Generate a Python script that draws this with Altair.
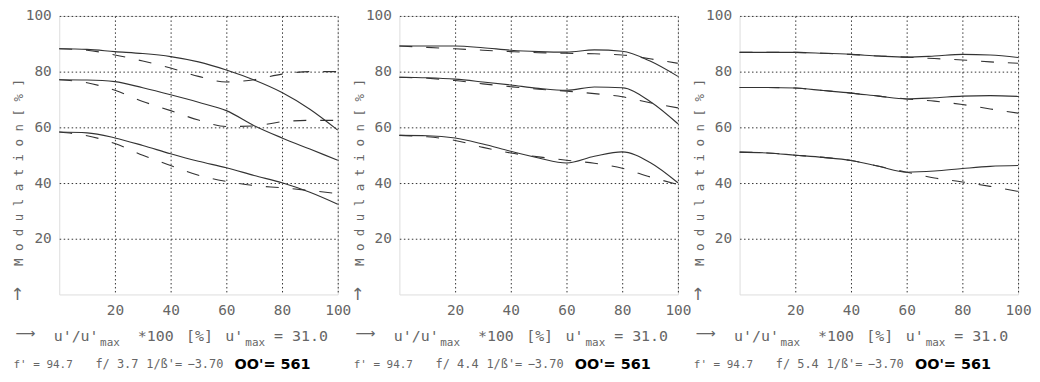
import altair as alt
import pandas as pd

# ---------------- data ----------------
x_pct = [0, 10, 20, 30, 40, 50, 60, 70, 80, 90, 100]

# panel 1 : f/3.7
p1_solid_high = [88.2, 88.0, 87.2, 86.5, 85.4, 83.5, 80.6, 77.0, 72.5, 66.5, 59.0]
p1_dash_high = [88.2, 87.7, 86.0, 83.8, 81.3, 78.3, 76.3, 77.1, 79.1, 80.0, 80.0]
p1_solid_mid = [77.1, 77.0, 76.4, 74.2, 71.7, 69.0, 66.0, 60.6, 56.2, 52.2, 48.2]
p1_dash_mid = [77.1, 76.0, 73.3, 69.3, 66.0, 62.6, 60.3, 60.5, 62.0, 62.5, 62.5]
p1_solid_low = [58.3, 58.0, 56.2, 53.5, 50.5, 47.8, 45.5, 42.7, 40.1, 36.7, 32.4]
p1_dash_low = [58.3, 57.0, 54.2, 50.0, 46.3, 42.8, 40.6, 39.1, 38.3, 37.3, 36.2]

# panel 2 : f/4.4
p2_solid_high = [89.2, 89.2, 89.2, 88.6, 87.7, 87.2, 87.0, 87.8, 87.3, 83.8, 78.3]
p2_dash_high = [89.2, 88.7, 88.2, 87.7, 87.2, 86.8, 86.6, 86.4, 86.0, 84.6, 83.0]
p2_solid_mid = [78.0, 77.8, 77.3, 76.3, 75.2, 74.0, 73.3, 74.5, 74.2, 69.3, 61.3]
p2_dash_mid = [78.0, 77.6, 76.8, 75.6, 74.6, 73.7, 73.0, 72.1, 71.0, 68.8, 67.0]
p2_solid_low = [57.1, 57.0, 56.2, 54.0, 51.4, 49.0, 47.2, 49.6, 51.2, 47.4, 40.1]
p2_dash_low = [57.1, 56.6, 55.3, 52.8, 50.8, 49.4, 48.2, 47.1, 45.3, 42.2, 39.5]

# panel 3 : f/5.4
p3_solid_high = [86.9, 86.9, 86.9, 86.6, 86.2, 85.6, 85.2, 85.6, 86.2, 86.0, 85.1]
p3_dash_high = [86.9, 86.9, 86.9, 86.6, 86.2, 85.6, 85.2, 84.7, 84.2, 83.5, 83.0]
p3_solid_mid = [74.3, 74.3, 74.1, 73.2, 72.3, 71.2, 70.2, 70.6, 71.2, 71.4, 71.1]
p3_dash_mid = [74.3, 74.3, 74.1, 73.2, 72.3, 71.2, 70.2, 69.4, 68.2, 66.6, 65.1]
p3_solid_low = [51.1, 50.8, 50.0, 49.2, 48.1, 46.0, 43.9, 44.3, 45.2, 46.0, 46.3]
p3_dash_low = [51.1, 50.8, 50.0, 49.2, 48.1, 46.0, 43.9, 41.8, 40.4, 38.8, 37.0]

f_numbers = ["3.7", "4.4", "5.4"]
tick_values = [20, 40, 60, 80, 100]

panels = [
    (f_numbers[0], [p1_solid_high, p1_solid_mid, p1_solid_low], [p1_dash_high, p1_dash_mid, p1_dash_low]),
    (f_numbers[1], [p2_solid_high, p2_solid_mid, p2_solid_low], [p2_dash_high, p2_dash_mid, p2_dash_low]),
    (f_numbers[2], [p3_solid_high, p3_solid_mid, p3_solid_low], [p3_dash_high, p3_dash_mid, p3_dash_low]),
]

# ---------------- styling ----------------
MONO = "DejaVu Sans Mono"
TXT = "#666666"
LINE = "#333333"
W = 280
H = 280


def long_df(series_list):
    rows = []
    for name, vals in zip(["high", "mid", "low"], series_list):
        for x, v in zip(x_pct, vals):
            rows.append({"x": x, "m": v, "curve": name})
    return pd.DataFrame(rows)


def token(text, px, py, size, font=MONO, color=TXT, weight="normal", angle=0,
          align="center", baseline="alphabetic"):
    return alt.Chart(pd.DataFrame({"t": [text]})).mark_text(
        font=font, fontSize=size, color=color, fontWeight=weight, angle=angle,
        align=align, baseline=baseline,
    ).encode(text="t:N", x=alt.value(px), y=alt.value(py))


x_enc = alt.X(
    "x:Q",
    scale=alt.Scale(domain=[0, 100], nice=False, zero=False),
    axis=alt.Axis(values=tick_values, title=None, grid=True, gridDash=[1.5, 2.5],
                  gridColor="#333333", gridWidth=1, ticks=False, domain=False,
                  labelFont=MONO, labelFontSize=14.5, labelColor=TXT,
                  labelPadding=9, labelFlush=False),
)
y_enc = alt.Y(
    "m:Q",
    scale=alt.Scale(domain=[0, 100], nice=False),
    axis=alt.Axis(values=tick_values, title=None, grid=True, gridDash=[1.5, 2.5],
                  gridColor="#333333", gridWidth=1, ticks=False, domain=False,
                  labelFont=MONO, labelFontSize=14.5, labelColor=TXT,
                  labelPadding=8),
)


def make_panel(fnum, solids, dashes):
    solid = alt.Chart(long_df(solids)).mark_line(
        color=LINE, strokeWidth=1.1, interpolate="monotone"
    ).encode(x=x_enc, y=y_enc, detail="curve:N")
    dashed = alt.Chart(long_df(dashes)).mark_line(
        color=LINE, strokeWidth=1.1, interpolate="monotone", strokeDash=[13, 14]
    ).encode(x=x_enc, y=y_enc, detail="curve:N")

    texts = [
        token("M o d u l a t i o n   [ % ]", -40, 157.5, 12.5, angle=270, baseline="middle"),
        token("\u2191", -42, 281, 17, font="DejaVu Sans", baseline="middle"),
        token("\u27f6", -34, 320, 14, font="DejaVu Sans", baseline="middle"),
        token("u'/u'", 17, 327, 15),
        token("max", 51, 331.5, 11),
        token("*100", 97, 327, 15),
        token("[%]", 141, 327, 15),
        token("u'", 176, 327, 15),
        token("max", 197, 331.5, 11),
        token("= 31.0", 243, 327, 15),
        token("f' = 94.7", -46, 354, 11, align="left"),
        token("f/ " + fnum, 58, 354, 12),
        token("1/\u00df'=", 105.5, 354, 12),
        token("\u22123.70", 147, 354, 12),
        token("OO'= 561", 214.5, 354.5, 14.5, font="DejaVu Sans", color="#000000", weight="bold"),
    ]
    return alt.layer(solid, dashed, *texts).properties(width=W, height=H)


chart = alt.hconcat(
    *[make_panel(f, s, d) for f, s, d in panels],
    spacing=62, bounds="flush",
).properties(
    padding={"left": 1.5, "top": -2, "right": 0, "bottom": 0},
).configure_view(
    stroke="#555555", strokeWidth=1.5,
).configure(
    background="white",
)

chart.save("out.html", embed_options={"renderer": "svg", "actions": False})
